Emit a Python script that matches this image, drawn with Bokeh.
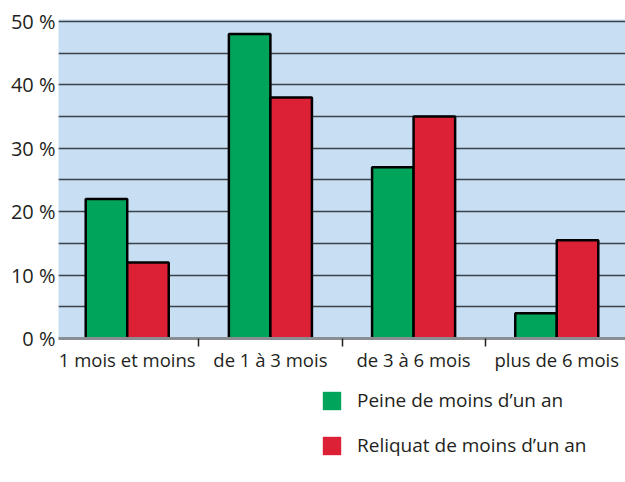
from bokeh.plotting import figure
from bokeh.models import ColumnDataSource, Range1d, FixedTicker, Legend, LegendItem
from bokeh.layouts import column
from bokeh.transform import dodge
from bokeh.embed import file_html
from bokeh.resources import INLINE

categories = ["1 mois et moins", "de 1 à 3 mois", "de 3 à 6 mois", "plus de 6 mois"]
peine = [22, 48, 27, 4]
reliquat = [12, 38, 35, 15.5]
y_ticks = [0, 10, 20, 30, 40, 50]
y_labels = ["0 %", "10 %", "20 %", "30 %", "40 %", "50 %"]
series_names = ["Peine de moins d\u2019un an", "Reliquat de moins d\u2019un an"]

GREEN = "#00a55b"
RED = "#dc2035"
BG = "#c8dff3"
FONT = "Open Sans"
TXT = "#231f20"

pos = [i + 0.5 for i in range(len(categories))]
src = ColumnDataSource(dict(x=pos, peine=peine, reliquat=reliquat))

p = figure(frame_width=567, frame_height=319, output_backend="svg", toolbar_location=None,
           x_range=Range1d(0.02, 3.98), y_range=Range1d(0, 50.3),
           min_border_left=58, min_border_right=0, min_border_top=19, min_border_bottom=0)
p.background_fill_color = BG
p.border_fill_color = "white"
p.outline_line_color = None

bw = 0.29
xg = dodge("x", -bw / 2, range=p.x_range)
xr = dodge("x", bw / 2, range=p.x_range)
p.vbar(x=xg, top="peine", width=bw, source=src, fill_color=GREEN, line_color="black", line_width=2.5)
p.vbar(x=xr, top="reliquat", width=bw, source=src, fill_color=RED, line_color="black", line_width=2.5)

# grid
p.xgrid.grid_line_color = None
p.ygrid.ticker = FixedTicker(ticks=list(range(0, 55, 5)))
p.ygrid.grid_line_color = "#3b4148"
p.ygrid.grid_line_width = 1.6

# y axis
ya = p.yaxis[0]
ya.ticker = FixedTicker(ticks=y_ticks)
ya.major_label_overrides = {t: l for t, l in zip(y_ticks, y_labels)}
ya.axis_line_color = None
ya.major_tick_line_color = None
ya.minor_tick_line_color = None
ya.major_label_standoff = -3
ya.major_label_text_font = FONT
ya.major_label_text_font_size = "20px"
ya.major_label_text_color = TXT

# x axis
xa = p.xaxis[0]
xa.ticker = FixedTicker(ticks=pos, minor_ticks=[1, 2, 3])
xa.major_label_overrides = {x: c for x, c in zip(pos, categories)}
xa.axis_line_color = "#8a8d91"
xa.axis_line_width = 3
xa.major_tick_line_color = None
xa.minor_tick_line_color = TXT
xa.minor_tick_line_width = 1.5
xa.minor_tick_in = 0
xa.minor_tick_out = 8
xa.major_label_standoff = 0
xa.major_label_text_font = FONT
xa.major_label_text_font_size = "18.5px"
xa.major_label_text_color = TXT

# legend strip below the chart
q = figure(width=625, height=108, output_backend="svg", toolbar_location=None,
           x_range=Range1d(0, 1), y_range=Range1d(0, 1),
           x_axis_location=None, y_axis_location=None,
           min_border_left=0, min_border_right=0, min_border_top=0, min_border_bottom=0)
q.grid.grid_line_color = None
q.outline_line_color = None
q.background_fill_color = "white"
g1 = q.vbar(x="x", top="peine", width=bw, source=src, fill_color=GREEN, line_color=None, visible=False)
g2 = q.vbar(x="x", top="reliquat", width=bw, source=src, fill_color=RED, line_color=None, visible=False)

legend = Legend(items=[LegendItem(label=series_names[0], renderers=[g1]),
                       LegendItem(label=series_names[1], renderers=[g2])],
                location=(262, 24), orientation="vertical",
                glyph_width=23, glyph_height=23, label_standoff=14, spacing=19,
                label_text_font=FONT, label_text_font_size="19px", label_text_color=TXT,
                background_fill_alpha=0, border_line_color=None, padding=8, margin=0,
                inactive_fill_alpha=0, click_policy="none")
q.add_layout(legend, "center")

open("out.html", "w").write(file_html(column(p, q, spacing=0), INLINE))
